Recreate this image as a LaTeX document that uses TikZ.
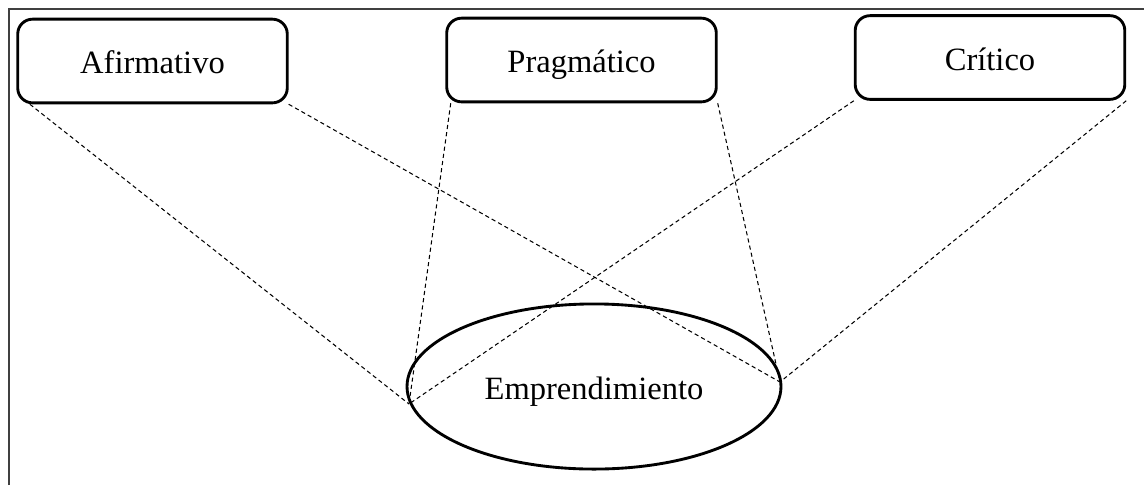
\documentclass[tikz,border=0pt]{standalone}
\usepackage{fontspec}
\setmainfont{Liberation Serif}
\usetikzlibrary{calc,shapes.geometric}

\tikzset{
  enfoque/.style={draw, line width=1.1pt, rounded corners=0.2cm,
    minimum width=3.64cm, minimum height=1.13cm,
    text height=12.3pt, text depth=2.5pt,
    font=\fontsize{12.5}{14}\selectfont},
  nucleo/.style={draw, ellipse, line width=1.1pt, inner sep=0pt,
    minimum width=5.05cm, minimum height=2.23cm,
    text height=12pt, text depth=2.4pt,
    font=\fontsize{12.5}{14}\selectfont},
  enlace/.style={line width=0.4pt, dash pattern=on 1.6pt off 1.2pt},
}

\begin{document}
\begin{tikzpicture}[x=0.0135cm, y=-0.0135cm]
    \useasboundingbox (0,0) rectangle (1144,485);

    % marco
    \draw[line width=0.6pt, black!75] (9,485) -- (9,9) -- (1144,9);

    % enfoques
    \node[enfoque] (afirm) at (152.5,61) {Afirmativo};
    \node[enfoque] (prag) at (581.5,60) {Pragmático};
    \node[enfoque] (crit) at (990,57.5) {Crítico};

    % emprendimiento
    \node[nucleo] (empr) at (594,386.5) {Emprendimiento};

    % puntos donde se cruzan las líneas
    \coordinate (izq) at (409,404);
    \coordinate (der) at (780,382);

    % líneas discontinuas
    \draw[enlace] ($(afirm.south west)!0.05!(afirm.south east)$) -- (izq);
    \draw[enlace] (afirm.south east) -- (der);
    \draw[enlace] ($(prag.south west)!0.02!(prag.south east)$) -- (izq);
    \draw[enlace] (prag.south east) -- (der);
    \draw[enlace] (crit.south west) -- (izq);
    \draw[enlace] (crit.south east) -- (der);
  \end{tikzpicture}
\end{document}
